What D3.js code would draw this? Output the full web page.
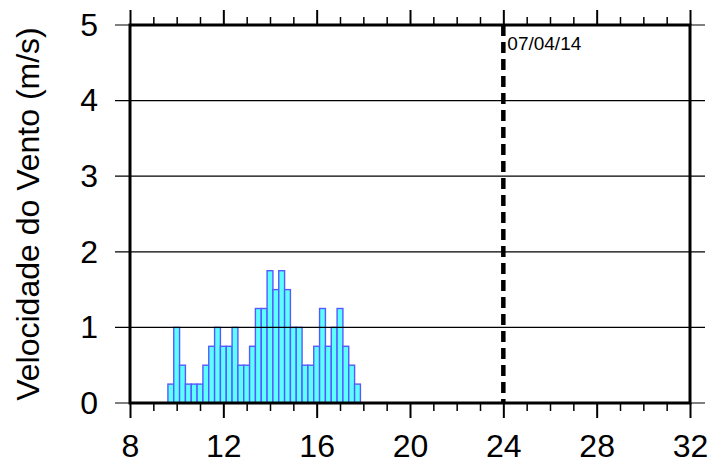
<!DOCTYPE html>
<html>
<head>
<meta charset="utf-8">
<script src="https://cdn.jsdelivr.net/npm/d3@7"></script>
<style>
  body { margin: 0; background: #fff; }
  text { font-family: "Liberation Sans", Arial, sans-serif; }
</style>
</head>
<body>
<svg id="chart" width="712" height="464"></svg>
<script>
// hora (centro de cada barra de 15 min) e velocidade do vento
const hours = [9.75, 10, 10.25, 10.5, 10.75, 11, 11.25, 11.5, 11.75, 12, 12.25, 12.5, 12.75, 13, 13.25,
  13.5, 13.75, 14, 14.25, 14.5, 14.75, 15, 15.25, 15.5, 15.75, 16, 16.25, 16.5, 16.75, 17, 17.25, 17.5, 17.75];
const speeds = [0.25, 1, 0.5, 0.25, 0.25, 0.25, 0.5, 0.75, 1, 0.75, 0.75, 1, 0.5, 0.5, 0.75,
  1.25, 1.25, 1.75, 1.5, 1.75, 1.5, 1, 1, 0.5, 0.5, 0.75, 1.25, 0.75, 1, 1.25, 0.75, 0.5, 0.25];
const xMajor = [8, 12, 16, 20, 24, 28, 32];
const yTicks = [0, 1, 2, 3, 4, 5];
const dayMark = 24;
const dayLabel = "07/04/14";
const yTitle = "Velocidade do Vento (m/s)";

const margin = {top: 25, left: 130, right: 22, bottom: 61};
const width = 712 - margin.left - margin.right;
const height = 464 - margin.top - margin.bottom;

const svg = d3.select('#chart');
const g = svg.append('g').attr('transform', `translate(${margin.left},${margin.top})`);

const x = d3.scaleLinear().domain([8, 32]).range([0, width]);
const y = d3.scaleLinear().domain([0, 5]).range([height, 0]);
const barW = x(8.25) - x(8);

// barras
g.selectAll('rect.bar')
  .data(hours.map((h, i) => ({h: h, v: speeds[i]})))
  .enter()
  .append('rect')
  .attr('class', 'bar')
  .attr('x', d => x(d.h) - barW / 2)
  .attr('y', d => y(d.v))
  .attr('width', barW)
  .attr('height', d => y(0) - y(d.v))
  .attr('fill', '#5cffff')
  .attr('stroke', '#5858ff')
  .attr('stroke-width', 1.4);

// linhas de grade (passam um pouco para fora do quadro)
g.selectAll('line.grid')
  .data(yTicks)
  .enter()
  .append('line')
  .attr('x1', -15).attr('x2', width + 15)
  .attr('y1', d => y(d)).attr('y2', d => y(d))
  .attr('stroke', '#000')
  .attr('stroke-width', 1.2);

// eixo y (apenas os numeros)
const yAxis = g.append('g')
  .call(d3.axisLeft(y).tickValues(yTicks).tickFormat(d3.format('d')).tickSize(0).tickPadding(32));
yAxis.select('.domain').remove();
yAxis.selectAll('text').attr('font-size', 32).attr('fill', '#000');

// marcas do eixo x
const minor = d3.range(8, 33).filter(v => xMajor.indexOf(v) < 0);
const xAxis = g.append('g')
  .attr('transform', `translate(0,${height})`)
  .call(d3.axisBottom(x).tickValues(xMajor).tickSize(15).tickPadding(16));
xAxis.select('.domain').remove();
xAxis.selectAll('line').attr('stroke-width', 2);
xAxis.selectAll('text').attr('font-size', 32).attr('fill', '#000');

const xMinor = g.append('g')
  .attr('transform', `translate(0,${height})`)
  .call(d3.axisBottom(x).tickValues(minor).tickSize(8).tickFormat(''));
xMinor.select('.domain').remove();
xMinor.selectAll('line').attr('stroke-width', 1.5);

const topMajor = g.append('g')
  .call(d3.axisTop(x).tickValues(xMajor).tickSize(15).tickFormat(''));
topMajor.select('.domain').remove();
topMajor.selectAll('line').attr('stroke-width', 2);

const topMinor = g.append('g')
  .call(d3.axisTop(x).tickValues(minor).tickSize(8).tickFormat(''));
topMinor.select('.domain').remove();
topMinor.selectAll('line').attr('stroke-width', 1.5);

// linha tracejada da data
g.append('line')
  .attr('x1', x(dayMark)).attr('x2', x(dayMark))
  .attr('y1', 0).attr('y2', height)
  .attr('stroke', '#000')
  .attr('stroke-width', 4.5)
  .attr('stroke-dasharray', '11,6');

g.append('text')
  .attr('x', x(dayMark) + 4)
  .attr('y', 25)
  .attr('font-size', 19)
  .text(dayLabel);

// quadro
g.append('rect')
  .attr('width', width).attr('height', height)
  .attr('fill', 'none')
  .attr('stroke', '#000')
  .attr('stroke-width', 3);

// titulo do eixo y
svg.append('text')
  .attr('transform', `translate(39,${margin.top + height / 2}) rotate(-90)`)
  .attr('text-anchor', 'middle')
  .attr('font-size', 32)
  .text(yTitle);
</script>
</body>
</html>
